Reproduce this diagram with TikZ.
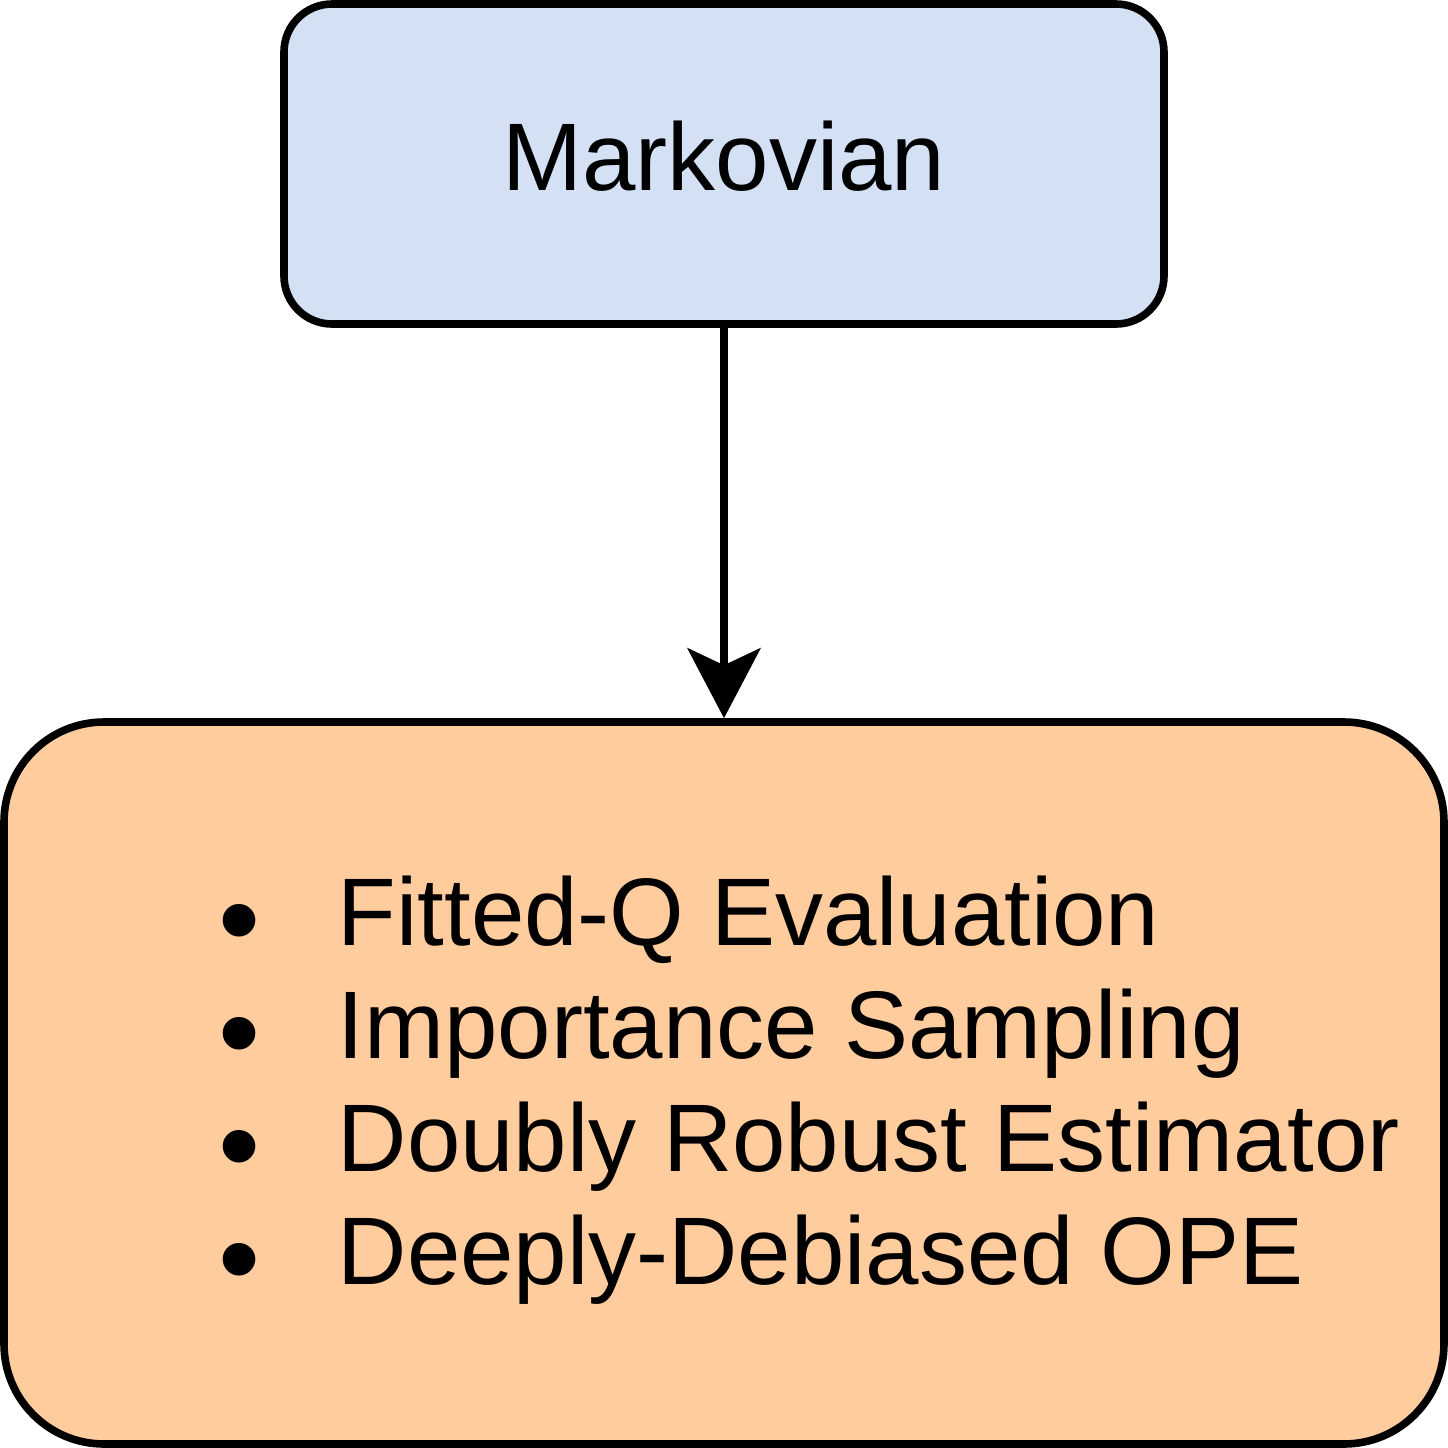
\documentclass[tikz,border=0pt]{standalone}
\usepackage{fontspec}
\setmainfont{Liberation Sans}
\usetikzlibrary{arrows.meta,positioning}

\definecolor{markblue}{HTML}{D4E1F5}
\definecolor{opeorange}{HTML}{FFCC9E}

\begin{document}
\begin{tikzpicture}[x=0.25pt, y=-0.25pt, >={Stealth[length=17.5pt, width=18.25pt, inset=4.25pt]},
block/.style = {draw, line width=1.9pt, rectangle, align=center, font=\fontsize{24}{28.25}\selectfont},
item/.style = {anchor=base west, inner sep=0pt, font=\fontsize{24}{28.25}\selectfont},
dot/.style = {anchor=base, inner sep=0pt, font=\fontsize{30}{30}\selectfont}]
    \useasboundingbox (0,0) rectangle (1448,1448);
    \node [block, fill=markblue, rounded corners=12pt, text depth=4pt,
           minimum width=220pt, minimum height=80pt]    (M)   at (724,164)  {Markovian};
    \node [block, fill=opeorange, rounded corners=25pt,
           minimum width=360pt, minimum height=180.5pt] (OPE) at (724,1083) {};
    \foreach \i/\txt in {0/Fitted-Q Evaluation, 1/Importance Sampling,
                         2/Doubly Robust Estimator, 3/Deeply-Debiased OPE}
    {
        \node [dot]  (b\i) at (240,960+113*\i) {\textbullet};
        \node [item] (t\i) at (337,945+113*\i) {\txt};
    }
    \path[draw, ->, line width=1.9pt] (M) edge (OPE);
\end{tikzpicture}
\end{document}
